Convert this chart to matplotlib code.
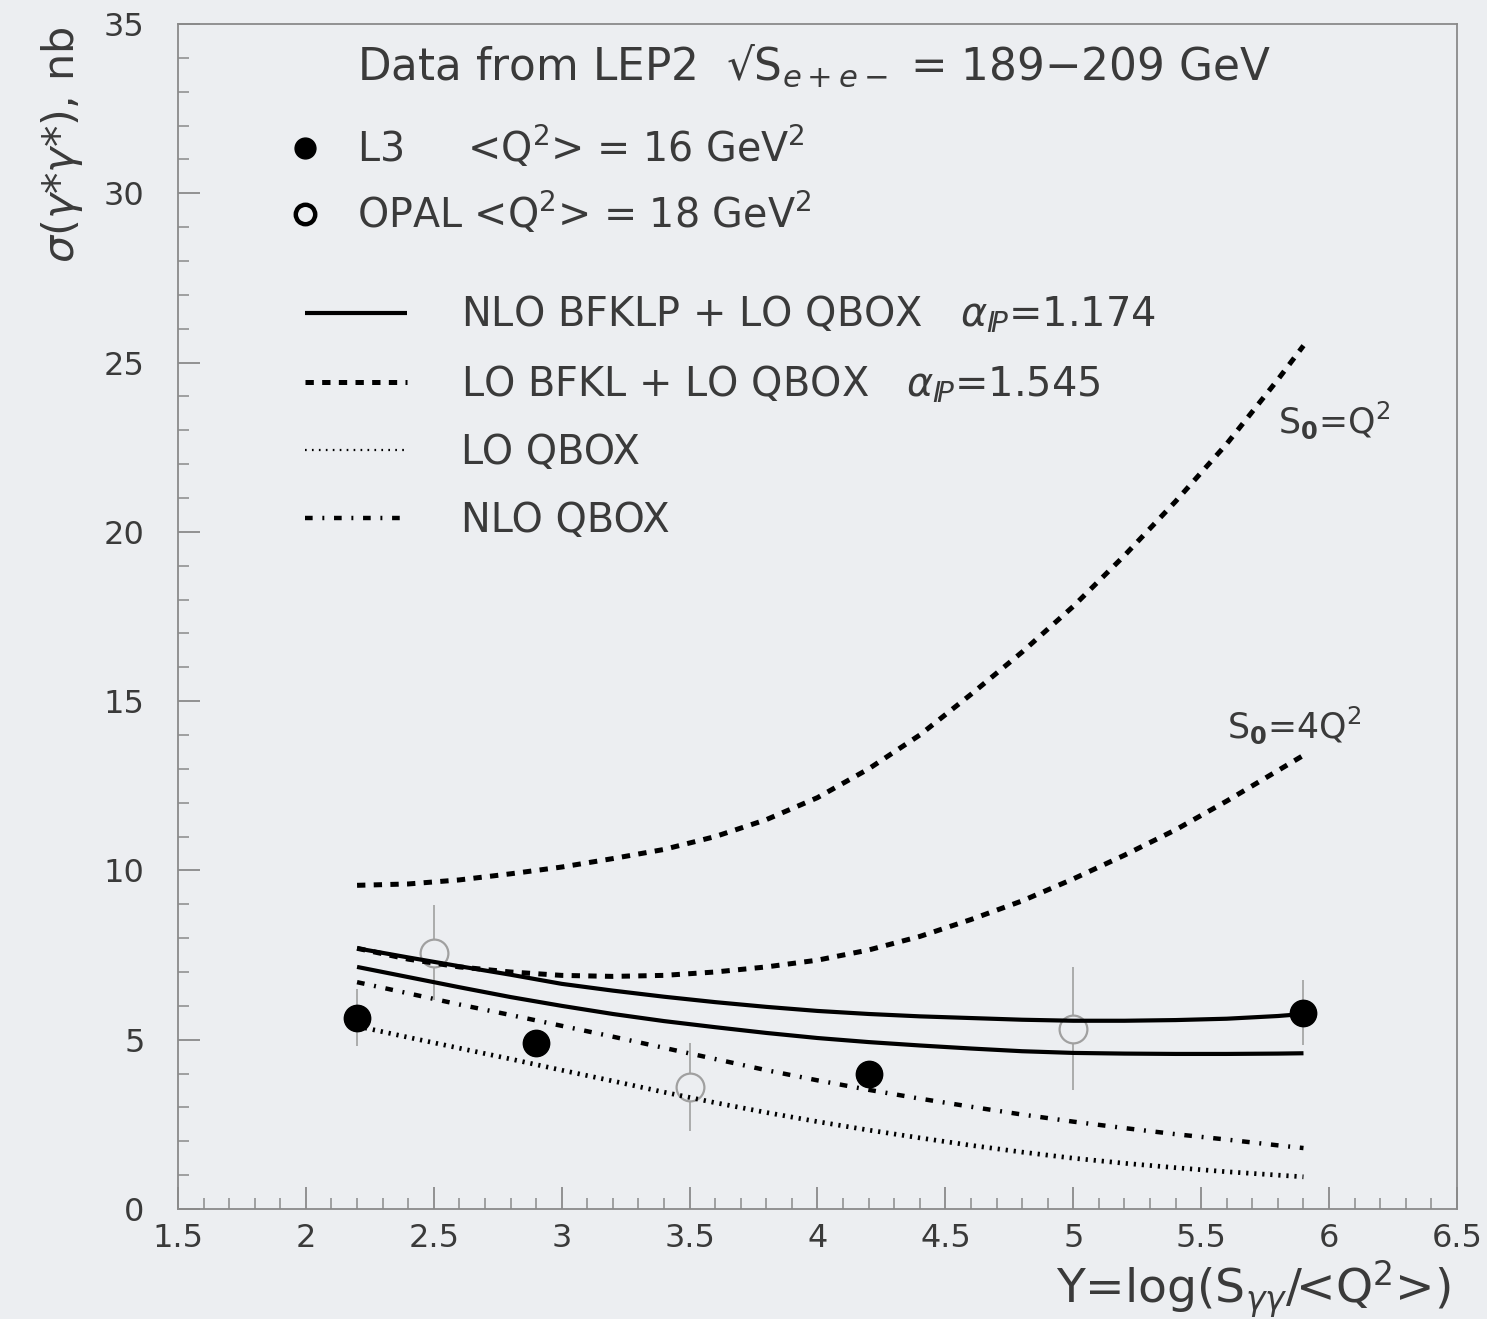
import matplotlib
matplotlib.use("Agg")
import matplotlib.pyplot as plt
from matplotlib.lines import Line2D

plt.rcParams['font.family'] = ['DejaVu Sans']
plt.rcParams['mathtext.fontset'] = 'dejavusans'
plt.rcParams['lines.scale_dashes'] = False

# ---------------- data ----------------
l3_x = [2.2, 2.9, 4.2, 5.9]
l3_y = [5.65, 4.9, 4.0, 5.8]
l3_err = [0.85, 0.35, 0.35, 0.95]

opal_x = [2.5, 3.5, 5.0]
opal_y = [7.57, 3.6, 5.33]
opal_err = [1.4, 1.3, 1.83]

curve_x = [2.2, 2.4, 2.6, 2.8, 3.0, 3.2, 3.4, 3.6, 3.8, 4.0,
           4.2, 4.4, 4.6, 4.8, 5.0, 5.2, 5.4, 5.6, 5.8, 5.9]
nlo_bfklp_upper = [7.7, 7.43, 7.17, 6.92, 6.65, 6.45, 6.27, 6.11, 5.97, 5.85,
                   5.76, 5.69, 5.64, 5.59, 5.56, 5.56, 5.58, 5.62, 5.7, 5.76]
nlo_bfklp_lower = [7.15, 6.85, 6.55, 6.26, 6.0, 5.76, 5.55, 5.37, 5.2, 5.05,
                   4.93, 4.83, 4.74, 4.66, 4.61, 4.59, 4.58, 4.58, 4.59, 4.6]
lo_bfkl_s0_q2 = [9.56, 9.6, 9.72, 9.9, 10.1, 10.35, 10.62, 11.0, 11.5, 12.15,
                 13.0, 14.0, 15.2, 16.45, 17.8, 19.3, 20.9, 22.6, 24.5, 25.5]
lo_bfkl_s0_4q2 = [7.7, 7.38, 7.15, 7.0, 6.9, 6.87, 6.9, 7.0, 7.15, 7.35,
                  7.65, 8.05, 8.55, 9.1, 9.75, 10.45, 11.2, 12.05, 12.95, 13.4]
nlo_qbox = [6.7, 6.37, 6.04, 5.73, 5.41, 5.09, 4.76, 4.43, 4.1, 3.8,
            3.52, 3.26, 3.02, 2.79, 2.58, 2.39, 2.21, 2.05, 1.88, 1.8]
lo_qbox = [5.4, 5.07, 4.75, 4.43, 4.1, 3.78, 3.45, 3.14, 2.85, 2.58,
           2.33, 2.1, 1.88, 1.68, 1.5, 1.35, 1.22, 1.1, 1.0, 0.95]

x_ticks = [1.5, 2, 2.5, 3, 3.5, 4, 4.5, 5, 5.5, 6, 6.5]
x_ticklabels = ['1.5', '2', '2.5', '3', '3.5', '4', '4.5', '5', '5.5', '6', '6.5']
y_ticks = [0, 5, 10, 15, 20, 25, 30, 35]
y_ticklabels = ['0', '5', '10', '15', '20', '25', '30', '35']

# ---------------- style ----------------
BG = '#eceef1'
TXT = '#3a3a3a'
AX = '#8a8a8a'

fig = plt.figure(figsize=(14.87, 13.19), dpi=100, facecolor=BG)
ax = fig.add_axes([0.1197, 0.0834, 0.8601, 0.8984], facecolor=BG)

ax.set_xlim(1.5, 6.5)
ax.set_ylim(0, 35)

solid = dict(color='black', lw=3.0, ls='-', solid_capstyle='butt')
dashed = dict(color='black', lw=3.6, ls=(0, (6.0, 6.0)), dash_capstyle='butt')
dotted = dict(color='black', lw=3.4, ls=(0, (1.6, 4.2)), dash_capstyle='butt')
dashdot = dict(color='black', lw=3.2, ls=(0, (5.5, 7.0, 1.4, 7.0)), dash_capstyle='butt')

# OPAL (open, light grey) under the curves
ax.errorbar(opal_x, opal_y, yerr=opal_err, fmt='o', ms=20, mfc=BG, mec='#a0a0a0',
            mew=1.6, ecolor='#a0a0a0', elinewidth=1.2, capsize=0, zorder=2)

ax.plot(curve_x, nlo_bfklp_upper, zorder=3, **solid)
ax.plot(curve_x, nlo_bfklp_lower, zorder=3, **solid)
ax.plot(curve_x, lo_bfkl_s0_q2, zorder=3, **dashed)
ax.plot(curve_x, lo_bfkl_s0_4q2, zorder=3, **dashed)
ax.plot(curve_x, nlo_qbox, zorder=3, **dashdot)
ax.plot(curve_x, lo_qbox, zorder=3, **dotted)

# L3 (filled) on top
ax.errorbar(l3_x, l3_y, yerr=l3_err, fmt='none', ecolor='#a0a0a0', elinewidth=1.2,
            capsize=0, zorder=1)
ax.plot(l3_x, l3_y, 'o', ms=19, color='black', zorder=4)

# ---------------- axes ----------------
for s in ax.spines.values():
    s.set_color(AX)
    s.set_linewidth(1.3)

ax.set_xticks(x_ticks)
ax.set_xticklabels(x_ticklabels)
ax.set_yticks(y_ticks)
ax.set_yticklabels(y_ticklabels)
ax.set_xticks([v / 10 for v in range(15, 66)], minor=True)
ax.set_yticks(list(range(0, 36)), minor=True)
ax.tick_params(which='both', direction='in', top=False, right=False, colors=AX,
               labelcolor=TXT, labelsize=23)
ax.tick_params(which='major', length=16, width=1.3)
ax.tick_params(which='minor', length=8, width=1.1)
ax.tick_params(axis='y', pad=24)
ax.tick_params(axis='x', pad=10)

ax.set_ylabel(r'$\sigma(\gamma$*$\gamma$*), nb', fontsize=31, color=TXT,
              ha='center', va='center')
ax.yaxis.set_label_coords(-0.091, 0.898)
ax.set_xlabel(r'Y=log(S$_{\gamma\gamma}$/<Q$^2$>)', fontsize=34, color=TXT,
              ha='right', va='center')
ax.xaxis.set_label_coords(0.995, -0.068)

# ---------------- texts ----------------
ax.text(0.14, 0.965, 'Data from LEP2  \u221aS$_{e+e-}$ = 189\u2212209 GeV',
        transform=ax.transAxes, fontsize=31.5, color=TXT, ha='left', va='center')

ax.text(5.8, 23.3, r'S$_\mathbf{0}$=Q$^2$', fontsize=25, color=TXT, ha='left', va='center')
ax.text(5.6, 14.3, r'S$_\mathbf{0}$=4Q$^2$', fontsize=25, color=TXT, ha='left', va='center')

# legend for data
data_handles = [
    Line2D([], [], ls='none', marker='o', ms=15, color='black'),
    Line2D([], [], ls='none', marker='o', ms=14, mfc='none', mec='black', mew=3.2),
]
data_labels = [r'L3     <Q$^2$> = 16 GeV$^2$', r'OPAL <Q$^2$> = 18 GeV$^2$']
leg1 = ax.legend(data_handles, data_labels, loc='upper left',
                 bbox_to_anchor=(0.0837, 0.915), frameon=False, fontsize=28.5,
                 handlelength=1.0, handletextpad=0.83, borderpad=0,
                 borderaxespad=0, labelspacing=0.5, labelcolor=TXT)
ax.add_artist(leg1)

curve_handles = [
    Line2D([], [], **solid),
    Line2D([], [], **dashed),
    Line2D([], [], color='black', lw=1.6, ls=(0, (1.2, 3.8))),
    Line2D([], [], **dashdot),
]
curve_labels = [
    r'NLO BFKLP + LO QBOX   $\alpha_{I\!P}$=1.174',
    r'LO BFKL + LO QBOX   $\alpha_{I\!P}$=1.545',
    'LO QBOX',
    'NLO QBOX',
]
leg2 = ax.legend(curve_handles, curve_labels, loc='upper left',
                 bbox_to_anchor=(0.0993, 0.772), frameon=False, fontsize=28.7,
                 handlelength=2.56, handletextpad=1.35, borderpad=0,
                 borderaxespad=0, labelspacing=0.7, labelcolor=TXT)

fig.savefig('out.png', dpi=100, facecolor=BG)
